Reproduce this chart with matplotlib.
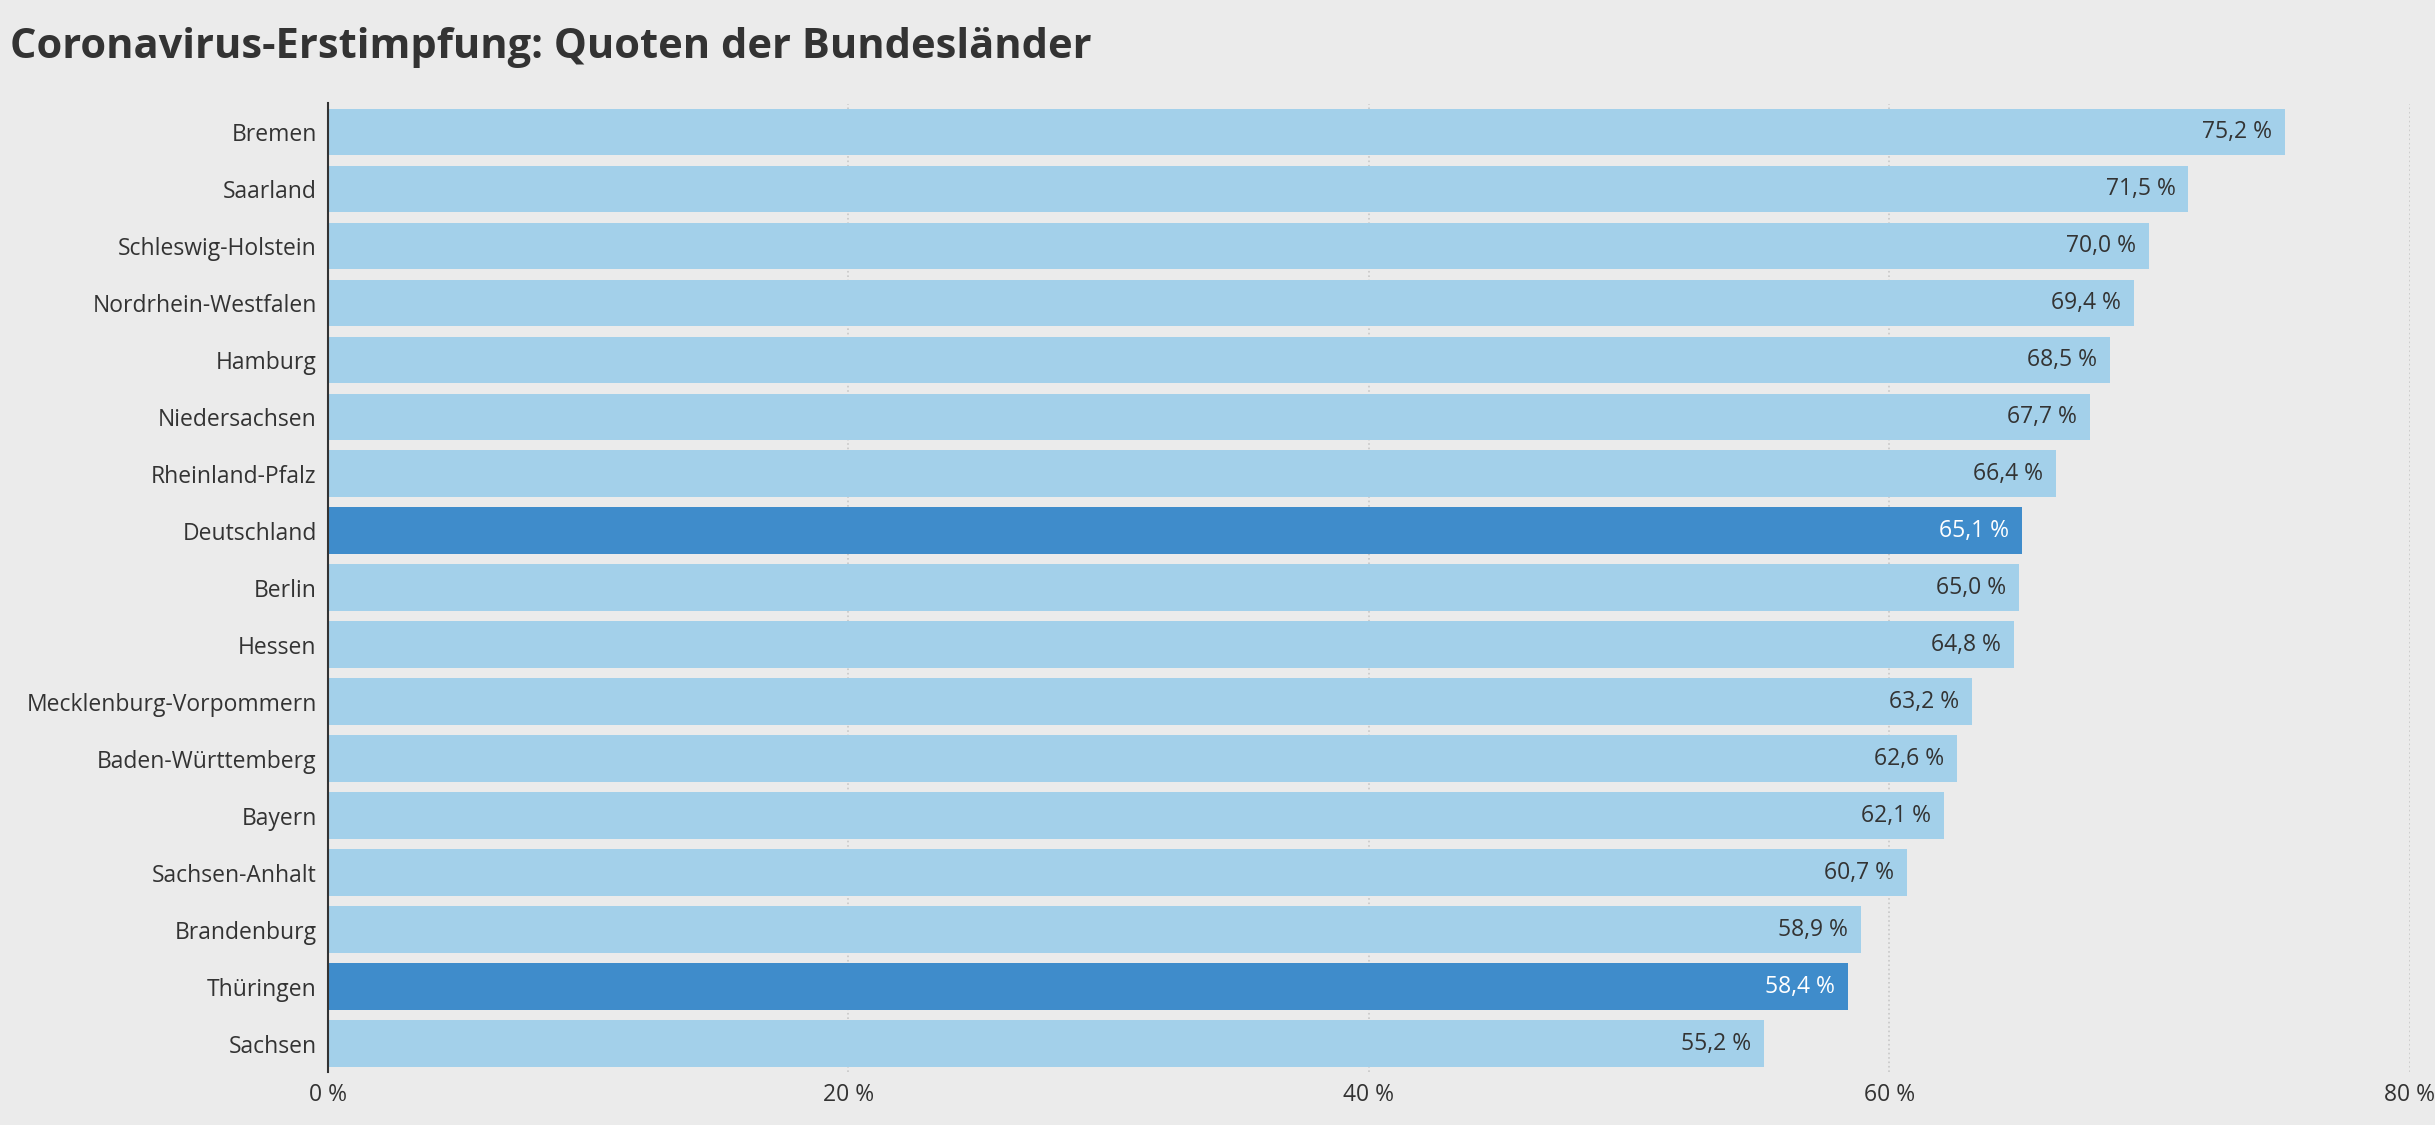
import matplotlib.pyplot as plt
from matplotlib.ticker import FixedLocator

plt.rcParams['font.family'] = ['Open Sans', 'DejaVu Sans']

laender = ["Bremen", "Saarland", "Schleswig-Holstein", "Nordrhein-Westfalen", "Hamburg",
           "Niedersachsen", "Rheinland-Pfalz", "Deutschland", "Berlin", "Hessen",
           "Mecklenburg-Vorpommern", "Baden-Württemberg", "Bayern", "Sachsen-Anhalt",
           "Brandenburg", "Thüringen", "Sachsen"]
quoten = [75.2, 71.5, 70.0, 69.4, 68.5, 67.7, 66.4, 65.1, 65.0, 64.8,
          63.2, 62.6, 62.1, 60.7, 58.9, 58.4, 55.2]
hervorgehoben = ["Deutschland", "Thüringen"]
x_ticks = [0, 20, 40, 60, 80]

bg = "#ebebeb"
fig = plt.figure(figsize=(24.35, 11.25), dpi=100, facecolor=bg)
ax = fig.add_axes([0.1346, 0.047, 0.855, 0.861], facecolor=bg)

y = list(range(len(laender)))
colors = ["#3f8ccb" if l in hervorgehoben else "#a3d0ea" for l in laender]
ax.barh(y, quoten, height=0.82, color=colors, zorder=2)
for yi, v, l in zip(y, quoten, laender):
    txt = f"{v:.1f} %".replace(".", ",")
    ax.text(v - 0.5, yi, txt, ha="right", va="center", fontsize=16.5,
            color="white" if l in hervorgehoben else "#333333", zorder=3)

ax.set_ylim(len(laender) - 0.5, -0.5)
ax.set_xlim(0, 80)
ax.set_yticks(y)
ax.set_yticklabels(laender, fontsize=16.5, color="#333333")
ax.xaxis.set_major_locator(FixedLocator(x_ticks))
ax.set_xticklabels([f"{t} %" for t in x_ticks], fontsize=16.5, color="#333333")
ax.tick_params(axis="both", length=0, pad=8)
ax.grid(axis="x", color="#c8c8c8", linestyle=":", linewidth=1.2, zorder=0)
for s in ["top", "right", "bottom"]:
    ax.spines[s].set_visible(False)
ax.spines["left"].set_color("#333333")
ax.spines["left"].set_linewidth(1.5)

fig.text(0.004, 0.958, "Coronavirus-Erstimpfung: Quoten der Bundesländer",
         fontsize=30, fontweight="bold", color="#333333", va="center")

fig.savefig("out.png", dpi=100, facecolor=bg)
